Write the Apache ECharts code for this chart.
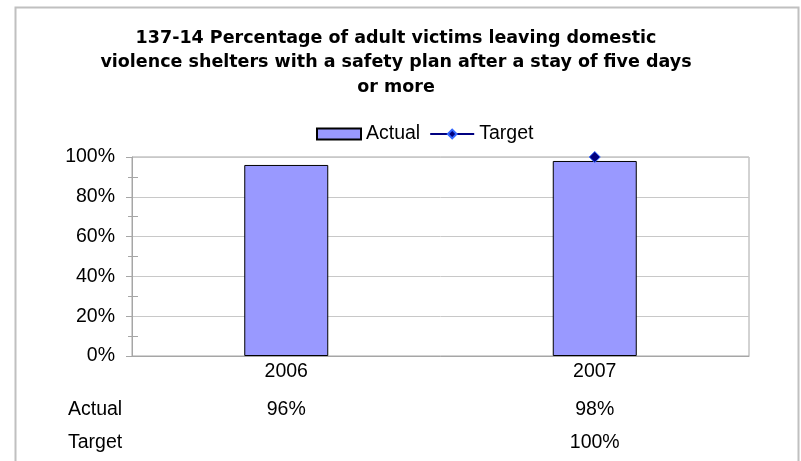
<!DOCTYPE html>
<html>
<head>
<meta charset="utf-8">
<script src="https://cdn.jsdelivr.net/npm/echarts@6/dist/echarts.min.js"></script>
<style>
  html, body { margin: 0; padding: 0; background: #fff; }
  #chart { width: 801px; height: 461px; }
</style>
</head>
<body>
<div id="chart"></div>
<script>
var years = ['2006', '2007'];
var actualVals = [96, 98];
var targetVals = [null, 100];
var yTicks = [0, 20, 40, 60, 80, 100];

var font = '"Liberation Sans", Arial, sans-serif';
var fs = 19.5;
var chart = echarts.init(document.getElementById('chart'));

function pct(v) { return v == null ? '' : v + '%'; }

var option = {
    backgroundColor: '#fff',
    animation: false,
    title: {
        text: '137-14 Percentage of adult victims leaving domestic\nviolence shelters with a safety plan after a stay of five days\nor more',
        left: 391,
        textAlign: 'center',
        top: 21,
        textStyle: {
            fontFamily: '"DejaVu Sans", sans-serif', fontSize: 17.5, fontWeight: 'bold',
            color: '#000', lineHeight: 24.5
        }
    },
    legend: {
        left: 311,
        top: 119,
        itemWidth: 44,
        itemHeight: 11,
        itemGap: 9,
        textStyle: { fontFamily: font, fontSize: fs, color: '#000' },
        data: [{ name: 'Actual', icon: 'rect' }, { name: 'Target' }]
    },
    grid: {
        left: 132, right: 52, top: 157, bottom: 105,
        show: true, borderColor: '#a6a6a6', borderWidth: 1
    },
    xAxis: [{
        type: 'category',
        data: years,
        axisLine: { lineStyle: { color: '#a6a6a6' } },
        axisTick: { show: false },
        axisLabel: { fontFamily: font, fontSize: fs, color: '#000', margin: 6 }
    }, {
        type: 'category',
        data: years,
        position: 'bottom',
        offset: 38,
        axisLine: { show: false },
        axisTick: { show: false },
        axisLabel: {
            fontFamily: font, fontSize: fs, color: '#000', margin: 6,
            formatter: function (v, i) { return pct(actualVals[i]); }
        }
    }, {
        type: 'category',
        data: years,
        position: 'bottom',
        offset: 71,
        axisLine: { show: false },
        axisTick: { show: false },
        axisLabel: {
            fontFamily: font, fontSize: fs, color: '#000', margin: 6,
            formatter: function (v, i) { return pct(targetVals[i]); }
        }
    }],
    yAxis: [{
        type: 'value',
        min: yTicks[0],
        max: yTicks[yTicks.length - 1],
        interval: 20,
        axisLine: { show: true, lineStyle: { color: '#a6a6a6' } },
        axisTick: { show: true, length: 6, lineStyle: { color: '#a6a6a6' } },
        minorTick: { show: true, splitNumber: 2, length: 4, lineStyle: { color: '#a6a6a6' } },
        splitLine: { lineStyle: { color: '#c8c8c8' } },
        axisLabel: {
            fontFamily: font, fontSize: fs, color: '#000', margin: 17,
            formatter: '{value}%'
        }
    }, {
        type: 'value',
        min: yTicks[0],
        max: yTicks[yTicks.length - 1],
        interval: 20,
        position: 'left',
        axisLine: { show: false },
        axisTick: { show: true, inside: true, length: 6, lineStyle: { color: 'rgba(0,0,0,0)' } },
        minorTick: { show: true, splitNumber: 2, length: 6, lineStyle: { color: '#a6a6a6' } },
        splitLine: { show: false },
        axisLabel: { show: false }
    }],
    series: [{
        name: 'Actual',
        type: 'bar',
        data: actualVals,
        barWidth: 84,
        itemStyle: { color: '#9999ff', borderColor: '#000', borderWidth: 1 }
    }, {
        name: 'Target',
        type: 'line',
        data: targetVals,
        symbol: 'diamond',
        symbolSize: 11,
        lineStyle: { color: '#000080', width: 1.5 },
        itemStyle: { color: '#000080', borderColor: '#3366ff', borderWidth: 1 },
        z: 5
    }],
    graphic: [{
        type: 'rect',
        shape: { x: 15.5, y: 7.5, width: 783, height: 470 },
        style: { fill: null, stroke: '#c0c0c0', lineWidth: 2 },
        silent: true
    }, {
        type: 'text',
        left: 68, top: 400,
        style: { text: 'Actual', font: fs + 'px ' + font, fill: '#000' }
    }, {
        type: 'text',
        left: 68, top: 433,
        style: { text: 'Target', font: fs + 'px ' + font, fill: '#000' }
    }]
};

chart.setOption(option);
</script>
</body>
</html>
